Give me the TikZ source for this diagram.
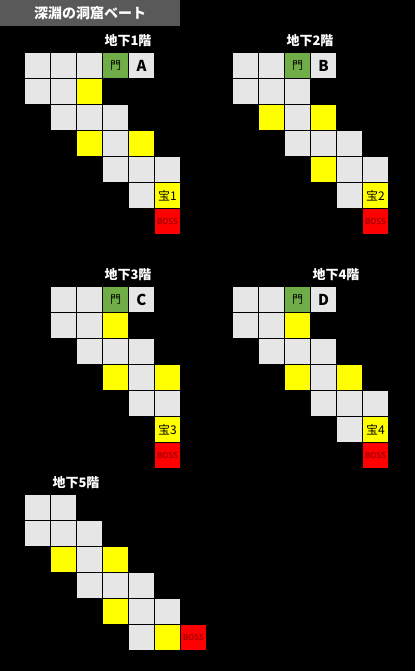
\documentclass[tikz,border=0pt]{standalone}
\usepackage{fontspec}
\setmainfont{Noto Sans CJK JP}
\usetikzlibrary{positioning}
\definecolor{roomgray}{HTML}{E7E6E6}
\definecolor{gategreen}{HTML}{70AD47}
\definecolor{chestyellow}{HTML}{FFFF00}
\definecolor{bossred}{HTML}{FF0000}
\definecolor{bosstext}{HTML}{7A0000}
\definecolor{bannergray}{HTML}{595959}

\begin{document}
\begin{tikzpicture}[x=1pt, y=-1pt,
  room/.style={fill=roomgray, minimum size=25pt, inner sep=0pt, outer sep=0pt, font=\fontsize{15}{15}\selectfont\bfseries},
  gate/.style={room, fill=gategreen, text=black, font=\fontsize{11}{11}\selectfont},
  chest/.style={room, fill=chestyellow, font=\fontsize{12}{12}\selectfont},
  boss/.style={room, fill=bossred, text=bosstext, font=\fontsize{8}{8}\selectfont},
  floorlabel/.style={text=white, inner sep=0pt, font=\fontsize{13}{13}\selectfont\bfseries}]
  \fill[black] (0,0) rectangle (415,671);
  \node[fill=bannergray, minimum width=180pt, minimum height=26pt, inner sep=0pt, anchor=north west,
    text=white, font=\fontsize{14}{14}\selectfont\bfseries] (banner) at (0,0) {深淵の洞窟ベート};

  % B1
  \foreach \c/\r/\k/\t in {0/0/room/{}, 1/0/room/{}, 2/0/room/{}, 3/0/gate/門, 4/0/room/A,
      0/1/room/{}, 1/1/room/{}, 2/1/chest/{}, 1/2/room/{}, 2/2/room/{}, 3/2/room/{},
      2/3/chest/{}, 3/3/room/{}, 4/3/chest/{}, 3/4/room/{}, 4/4/room/{}, 5/4/room/{},
      4/5/room/{}, 5/5/chest/宝1, 5/6/boss/BOSS}
    \node[\k] (b1-\c-\r) at ({37.5+26*\c}, {65.5+26*\r}) {\t};
  \node[floorlabel, above=6pt of b1-3-0.north east] (b1) {地下1階};

  % B2
  \foreach \c/\r/\k/\t in {0/0/room/{}, 1/0/room/{}, 2/0/gate/門, 3/0/room/B,
      0/1/room/{}, 1/1/room/{}, 2/1/room/{}, 1/2/chest/{}, 2/2/room/{}, 3/2/chest/{},
      2/3/room/{}, 3/3/room/{}, 4/3/room/{}, 3/4/chest/{}, 4/4/room/{}, 5/4/room/{},
      4/5/room/{}, 5/5/chest/宝2, 5/6/boss/BOSS}
    \node[\k] (b2-\c-\r) at ({245.5+26*\c}, {65.5+26*\r}) {\t};
  \node[floorlabel, above=6pt of b2-2-0.north east] (b2) {地下2階};

  % B3
  \foreach \c/\r/\k/\t in {1/0/room/{}, 2/0/room/{}, 3/0/gate/門, 4/0/room/C,
      1/1/room/{}, 2/1/room/{}, 3/1/chest/{}, 2/2/room/{}, 3/2/room/{}, 4/2/room/{},
      3/3/chest/{}, 4/3/room/{}, 5/3/chest/{}, 4/4/room/{}, 5/4/room/{},
      5/5/chest/宝3, 5/6/boss/BOSS}
    \node[\k] (b3-\c-\r) at ({37.5+26*\c}, {299.5+26*\r}) {\t};
  \node[floorlabel, above=6pt of b3-3-0.north east] (b3) {地下3階};

  % B4
  \foreach \c/\r/\k/\t in {0/0/room/{}, 1/0/room/{}, 2/0/gate/門, 3/0/room/D,
      0/1/room/{}, 1/1/room/{}, 2/1/chest/{}, 1/2/room/{}, 2/2/room/{}, 3/2/room/{},
      2/3/chest/{}, 3/3/room/{}, 4/3/chest/{}, 3/4/room/{}, 4/4/room/{}, 5/4/room/{},
      4/5/room/{}, 5/5/chest/宝4, 5/6/boss/BOSS}
    \node[\k] (b4-\c-\r) at ({245.5+26*\c}, {299.5+26*\r}) {\t};
  \node[floorlabel, above=6pt of b4-3-0.north east] (b4) {地下4階};

  % B5
  \foreach \c/\r/\k/\t in {0/0/room/{}, 1/0/room/{},
      0/1/room/{}, 1/1/room/{}, 2/1/room/{}, 1/2/chest/{}, 2/2/room/{}, 3/2/chest/{},
      2/3/room/{}, 3/3/room/{}, 4/3/room/{}, 3/4/chest/{}, 4/4/room/{}, 5/4/room/{},
      4/5/room/{}, 5/5/chest/{}, 6/5/boss/BOSS}
    \node[\k] (b5-\c-\r) at ({37.5+26*\c}, {507.5+26*\r}) {\t};
  \node[floorlabel, above=6pt of b5-1-0.north east] (b5) {地下5階};
\end{tikzpicture}
\end{document}
